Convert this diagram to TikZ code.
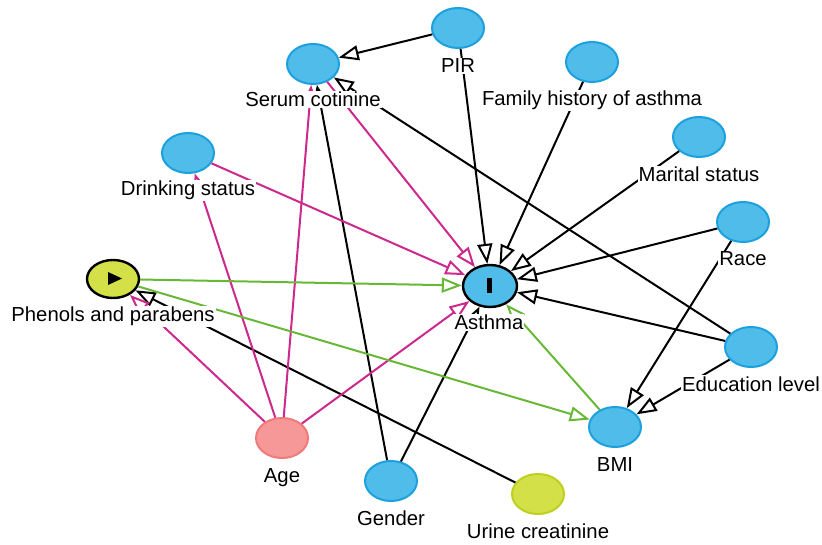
\documentclass[tikz,border=0pt]{standalone}
\usepackage{fontspec}
\setmainfont{Liberation Sans}
\usetikzlibrary{shapes.geometric,arrows.meta}
\definecolor{nblue}{RGB}{80,188,234}
\definecolor{nblueb}{RGB}{28,160,222}
\definecolor{npink}{RGB}{246,152,152}
\definecolor{npinkb}{RGB}{240,122,122}
\definecolor{nyel}{RGB}{212,224,72}
\definecolor{nyelb}{RGB}{190,208,30}
\definecolor{epink}{RGB}{205,40,140}
\definecolor{egreen}{RGB}{104,184,56}
\begin{document}
\begin{tikzpicture}[x=1pt,y=-1pt,
  var/.style={ellipse, minimum width=52pt, minimum height=40pt, inner sep=0pt, line width=2pt, draw=nblueb, fill=nblue},
  agevar/.style={var, draw=npinkb, fill=npink},
  yelvar/.style={var, draw=nyelb, fill=nyel},
  lab/.style={anchor=base, fill=white, inner sep=1pt, font=\fontsize{20.3}{21}\selectfont},
  cedge/.style={line width=2pt, -{Triangle[length=20pt,width=15pt,fill=white]}},
  pedge/.style={cedge, draw=epink},
  gedge/.style={cedge, draw=egreen}]
\useasboundingbox (0,0) rectangle (822,545);
% variables
\node[var] (serum) at (313,64) {};
\node[var] (pir) at (458,28) {};
\node[var] (fam) at (592,62) {};
\node[var] (mar) at (699,137) {};
\node[var] (race) at (743,222) {};
\node[var] (edu) at (751,347) {};
\node[var] (bmi) at (615,427) {};
\node[yelvar] (urine) at (538,494) {};
\node[var] (gender) at (391,481) {};
\node[agevar] (age) at (282,438) {};
\node[var] (drink) at (188,153) {};
\node[var, draw=black, line width=2.4pt, fill=nyel, minimum width=52pt, minimum height=38pt] (phen) at (113,279) {};
\node[var, draw=black, line width=2.4pt, minimum width=54pt, minimum height=42pt] (asthma) at (490,286) {};
\fill (108,272) -- (108,285) -- (122,278.5) -- cycle;
\draw[line width=4.5pt] (489.5,278.5) -- (489.5,293);
% edges
\draw[cedge] (pir) -- (serum);
\draw[cedge] (pir) -- (asthma);
\draw[cedge] (fam) -- (asthma);
\draw[cedge] (mar) -- (asthma);
\draw[cedge] (race) -- (asthma);
\draw[cedge] (edu) -- (asthma);
\draw[cedge] (edu) -- (serum);
\draw[cedge] (edu) -- (bmi);
\draw[cedge] (race) -- (bmi);
\draw[cedge] (gender) -- (asthma);
\draw[cedge] (gender) -- (serum);
\draw[cedge] (urine) -- (phen);
\draw[pedge] (drink) -- (asthma);
\draw[pedge] (age) -- (drink);
\draw[pedge] (age) -- (serum);
\draw[pedge] (age) -- (phen);
\draw[pedge] (age) -- (asthma);
\draw[pedge] (serum) -- (asthma);
\draw[gedge] (phen) -- (asthma);
\draw[gedge] (phen) -- (bmi);
\draw[gedge] (bmi) -- (asthma);
% labels
\node[lab] (lserum) at (313,107) {Serum cotinine};
\node[lab] (lpir) at (458,73) {PIR};
\node[lab] (lfam) at (592,106) {Family history of asthma};
\node[lab] (lmar) at (699,182) {Marital status};
\node[lab] (lrace) at (743,266) {Race};
\node[lab] (ledu) at (751,391) {Education level};
\node[lab] (lbmi) at (615,471) {BMI};
\node[lab] (lurine) at (538,538) {Urine creatinine};
\node[lab] (lgender) at (391,525) {Gender};
\node[lab] (lage) at (282,482) {Age};
\node[lab] (ldrink) at (188,196) {Drinking status};
\node[lab] (lphen) at (113,322) {Phenols and parabens};
\node[lab] (lasthma) at (489,330) {Asthma};
\end{tikzpicture}
\end{document}
